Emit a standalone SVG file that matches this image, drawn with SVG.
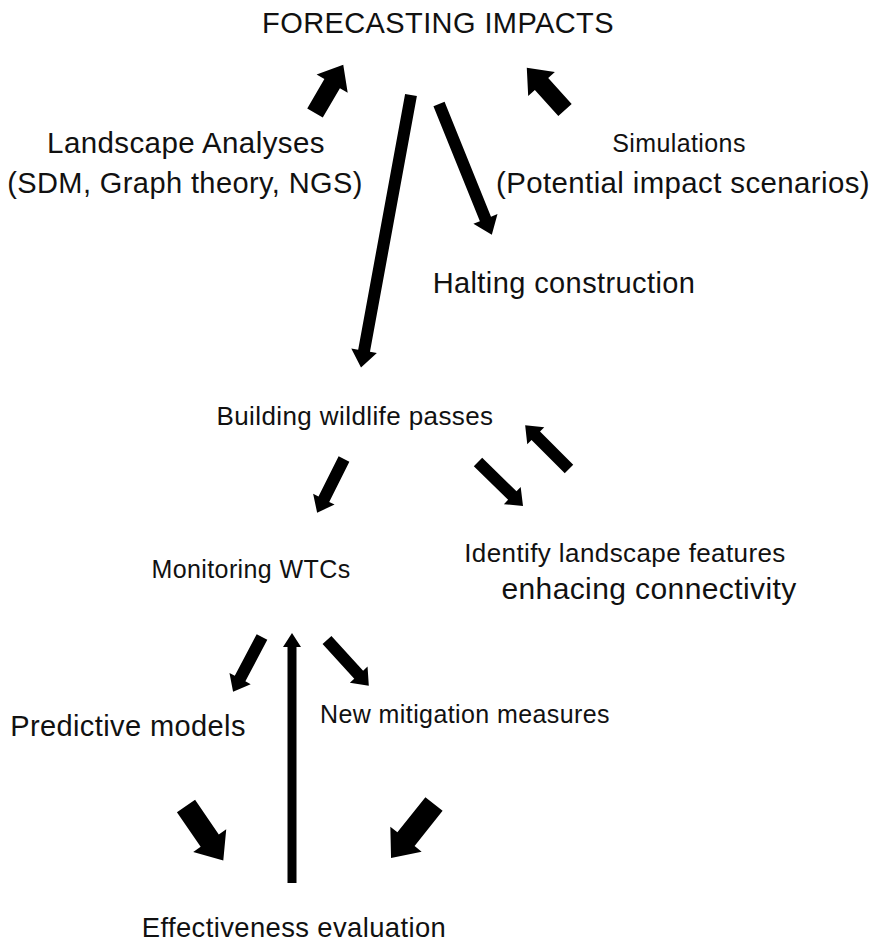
<svg xmlns="http://www.w3.org/2000/svg" width="879" height="945" viewBox="0 0 879 945">
<style>
text{font-family:"Liberation Sans",Arial,sans-serif;font-size:29px;letter-spacing:0.4px;fill:#111;text-anchor:middle}
.arr{fill:#000}
</style>
<rect width="879" height="945" fill="#fff"/>
<g id="forecasting"><text x="438" y="33">FORECASTING IMPACTS</text></g>
<g id="landscape"><text x="186" y="153" style="font-size:29.5px">Landscape Analyses</text><text x="185" y="193">(SDM, Graph theory, NGS)</text></g>
<g id="simulations"><text x="679" y="152" style="font-size:25px">Simulations</text><text x="683" y="193" style="font-size:29.4px">(Potential impact scenarios)</text></g>
<g id="halting"><text x="564" y="293">Halting construction</text></g>
<g id="building"><text x="355" y="425" style="font-size:26px">Building wildlife passes</text></g>
<g id="monitoring"><text x="251" y="578" style="font-size:25px">Monitoring WTCs</text></g>
<g id="identify"><text x="625" y="562" style="font-size:26px">Identify landscape features</text><text x="649" y="599" style="font-size:30px">enhacing connectivity</text></g>
<g id="predictive"><text x="128" y="736">Predictive models</text></g>
<g id="mitigation"><text x="465" y="723" style="font-size:25px">New mitigation measures</text></g>
<g id="effectiveness"><text x="294" y="937" style="font-size:27.4px">Effectiveness evaluation</text></g>
<g id="connectors" class="arr">
<path d="M0,-9 H34 V-18 L56,0 L34,18 V9 H0 Z" transform="translate(315,113) rotate(-59.7)"/>
<path d="M0,-9 H35 V-18 L57,0 L35,18 V9 H0 Z" transform="translate(565,110) rotate(-132.1)"/>
<path d="M0,-6 H260 V-13 L277,0 L260,13 V6 H0 Z" transform="translate(411,95) rotate(100.4)"/>
<path d="M0,-6 H124 V-13 L141,0 L124,13 V6 H0 Z" transform="translate(439,104) rotate(68)"/>
<path d="M0,-6 H45 V-12 L60,0 L45,12 V6 H0 Z" transform="translate(344,459) rotate(116.6)"/>
<path d="M0,-6 H48 V-12 L63,0 L48,12 V6 H0 Z" transform="translate(478,462) rotate(44.4)"/>
<path d="M0,-6 H47 V-12 L62,0 L47,12 V6 H0 Z" transform="translate(569,469) rotate(-135)"/>
<path d="M0,-6 H47 V-12 L62,0 L47,12 V6 H0 Z" transform="translate(262,637) rotate(117.8)"/>
<path d="M0,-6 H47 V-12 L62,0 L47,12 V6 H0 Z" transform="translate(327,640) rotate(47.6)"/>
<path d="M0,-4.5 H236 V-9 L250,0 L236,9 V4.5 H0 Z" transform="translate(292,883) rotate(-90)"/>
<path d="M0,-11 H42 V-20 L66,0 L42,20 V11 H0 Z" transform="translate(186,806) rotate(55.6)"/>
<path d="M0,-11 H45 V-20 L69,0 L45,20 V11 H0 Z" transform="translate(434,804) rotate(128.5)"/>
</g>
</svg>
